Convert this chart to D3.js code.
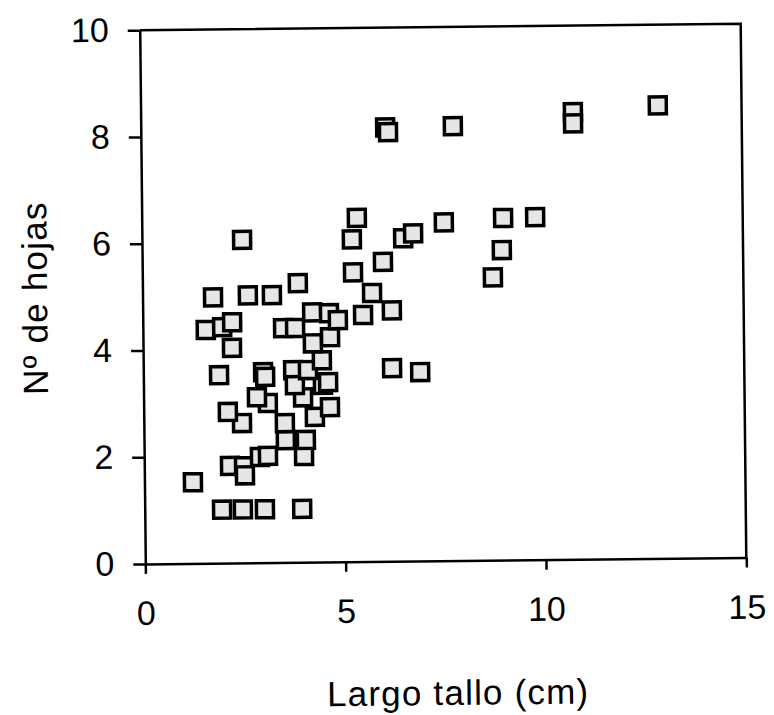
<!DOCTYPE html>
<html>
<head>
<meta charset="utf-8">
<script src="https://cdn.jsdelivr.net/npm/d3@7"></script>
<style>
  html, body { margin: 0; padding: 0; background: #fff; }
  svg text { font-family: "Liberation Sans", Arial, sans-serif; fill: #000; }
</style>
</head>
<body>
<svg id="chart" width="774" height="715"></svg>
<script>
// Stem length (cm) vs. number of leaves, one square per plant
const largoTallo = [
  1.21, 1.93, 2.45, 3.00, 3.93,
  2.14, 2.49, 2.51, 2.89, 3.09, 3.99,
  3.54, 4.04, 3.52, 2.45, 2.10, 3.10, 2.83, 4.27, 4.65, 3.98,
  1.89, 2.99, 3.04, 3.74, 3.78, 4.48, 4.61, 4.11, 4.46,
  2.22, 1.57, 1.98, 2.23, 3.50, 3.80, 4.24, 4.67, 4.23, 4.65, 4.87, 5.50,
  1.76, 2.63, 3.23, 3.88,
  5.26, 5.73, 6.22, 6.21, 6.91,
  5.24, 6.01, 5.37, 6.52, 6.77, 7.54, 9.02, 9.82, 8.98, 8.75,
  2.50, 6.10, 6.17, 7.79, 10.79, 10.79, 12.91
];
const nHojas = [
  1.52, 1.00, 1.00, 1.00, 1.00,
  1.82, 1.81, 1.64, 1.98, 2.00, 1.99,
  2.29, 2.29, 2.61, 2.62, 2.83, 2.99, 3.10, 2.72, 2.90, 3.09,
  3.52, 3.57, 3.48, 3.60, 3.32, 3.32, 3.37, 3.60, 3.78,
  4.03, 4.37, 4.42, 4.51, 4.39, 4.39, 4.10, 4.21, 4.68, 4.66, 4.53, 4.62,
  4.98, 5.01, 5.01, 5.23,
  5.42, 5.03, 4.70, 3.62, 3.54,
  6.04, 5.61, 6.44, 6.05, 6.14, 6.34, 6.41, 6.42, 5.81, 5.30,
  6.05, 8.13, 8.04, 8.14, 8.38, 8.17, 8.49
];
const xTicks = [0, 5, 10, 15];
const yTicks = [0, 2, 4, 6, 8, 10];
const xTitle = "Largo tallo (cm)";
const yTitle = "Nº de hojas";

const plot = { left: 142.5, right: 743.5, top: 27, bottom: 560.75 };
const svg = d3.select("#chart");

// the whole figure sits at a slight tilt
const root = svg.append("g").attr("transform", "rotate(-0.6, 443, 294)");

const x = d3.scaleLinear().domain([0, 15]).range([plot.left, plot.right]);
const y = d3.scaleLinear().domain([0, 10]).range([plot.bottom, plot.top]);

// frame: top and right edges
root.append("path")
  .attr("d", `M${plot.left},${plot.top}H${plot.right}V${plot.bottom}`)
  .attr("fill", "none").attr("stroke", "#000").attr("stroke-width", 2.5);

// x axis
const gx = root.append("g")
  .attr("transform", `translate(0,${plot.bottom})`)
  .call(d3.axisBottom(x).tickValues(xTicks).tickSize(10).tickPadding(27).tickSizeOuter(0));
gx.selectAll("text").style("font-size", "34px");

// y axis
const gy = root.append("g")
  .attr("transform", `translate(${plot.left},0)`)
  .call(d3.axisLeft(y).tickValues(yTicks).tickSize(12).tickPadding(19).tickSizeOuter(0));
gy.selectAll("text").style("font-size", "34px");

[gx, gy].forEach(g => {
  g.attr("font-family", null).attr("font-size", null);
  g.select(".domain").attr("stroke", "#000").attr("stroke-width", 2.5);
  g.selectAll(".tick line").attr("stroke", "#000").attr("stroke-width", 2.5);
});

// titles
root.append("text")
  .attr("x", 454)
  .attr("y", 705)
  .attr("text-anchor", "middle")
  .style("font-size", "35px")
  .style("letter-spacing", "1.2px")
  .text(xTitle);

root.append("text")
  .attr("transform", `translate(47,${(plot.top + plot.bottom) / 2}) rotate(-90)`)
  .attr("text-anchor", "middle")
  .style("font-size", "35px")
  .style("letter-spacing", "1.2px")
  .text(yTitle);

// square markers
const size = 17;
const points = largoTallo.map((v, i) => ({ x: v, y: nHojas[i] }));
root.append("g")
  .selectAll("rect")
  .data(points)
  .join("rect")
  .attr("x", d => x(d.x) - size / 2)
  .attr("y", d => y(d.y) - size / 2)
  .attr("width", size)
  .attr("height", size)
  .attr("fill", "#e6e6e6")
  .attr("stroke", "#000")
  .attr("stroke-width", 3.5);
</script>
</body>
</html>
